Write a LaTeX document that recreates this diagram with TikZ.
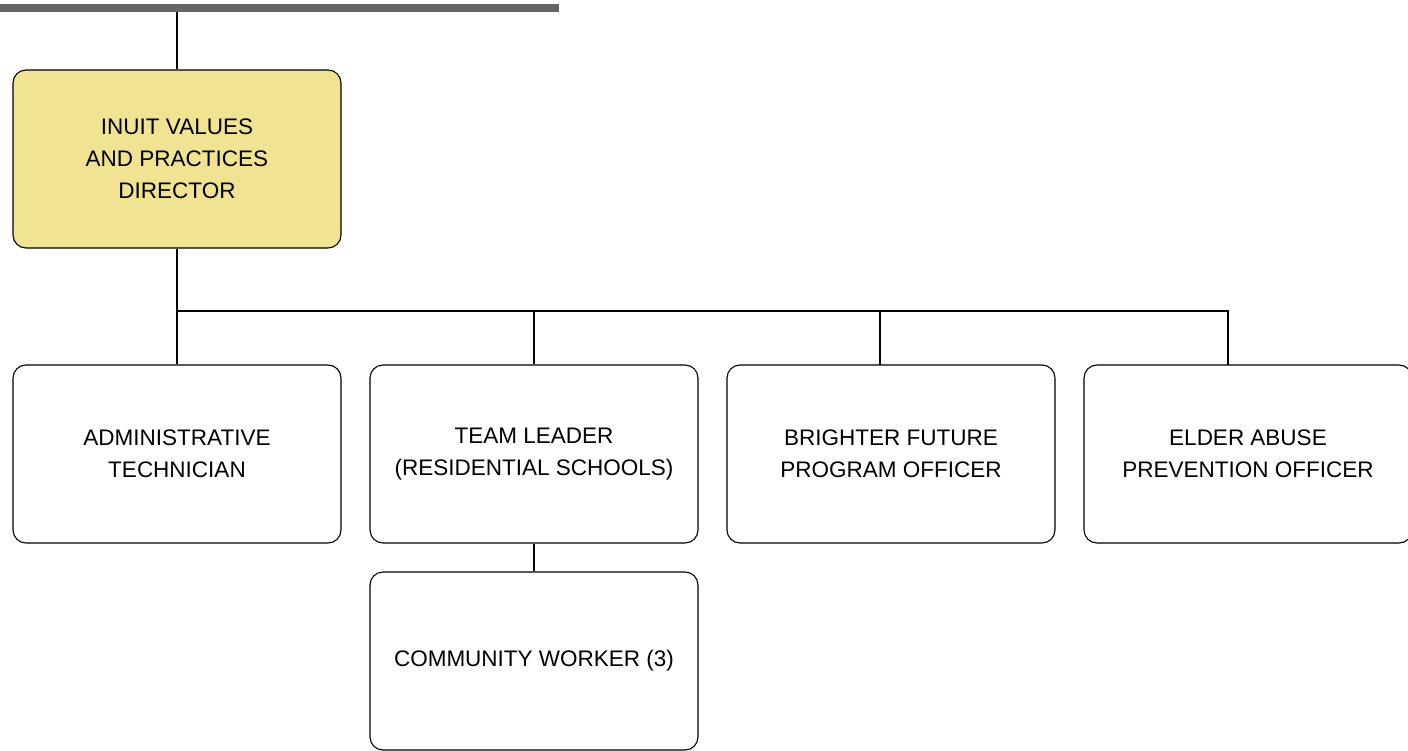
\documentclass[tikz,border=0pt]{standalone}
\usepackage{fontspec}
\setmainfont{Liberation Sans}
\definecolor{boxyellow}{RGB}{240,227,145}
\definecolor{bargray}{RGB}{102,102,102}
\begin{document}
\begin{tikzpicture}[x=1pt,y=-1pt,
  orgbox/.style={draw=black, line width=1.1pt, rounded corners=13pt, fill=white,
    minimum width=328pt, minimum height=178pt, inner sep=0pt, align=center,
    font=\fontsize{22.5pt}{32pt}\selectfont, text=black},
  conn/.style={draw=black, line width=1.5pt}]
\useasboundingbox (0,0) rectangle (1408,751);
\fill[bargray] (0,4) rectangle (559,12);
\coordinate (bar) at (177,12);
\node[orgbox, fill=boxyellow] (dir) at (177,159) {INUIT VALUES\\AND PRACTICES\\DIRECTOR};
\node[orgbox] (adm) at (177,454) {ADMINISTRATIVE\\TECHNICIAN};
\node[orgbox] (team) at (534,454) {TEAM LEADER\\(RESIDENTIAL SCHOOLS)};
\node[orgbox] (bright) at (891,454) {BRIGHTER FUTURE\\PROGRAM OFFICER};
\node[orgbox] (elder) at (1248,454) {ELDER ABUSE\\PREVENTION OFFICER};
\node[orgbox] (comm) at (534,661) {\raisebox{-3pt}{COMMUNITY WORKER (3)}};
\coordinate (hub) at (177,311);
\draw[conn] (bar) -- (dir.north);
\draw[conn] (dir.south) -- (hub) -- (adm.north);
\draw[conn] (hub) -- (1228,311) -- (1228,365);
\draw[conn] (534,311) -- (team.north);
\draw[conn] (880,311) -- (880,365);
\draw[conn] (team.south) -- (comm.north);
\end{tikzpicture}
\end{document}
